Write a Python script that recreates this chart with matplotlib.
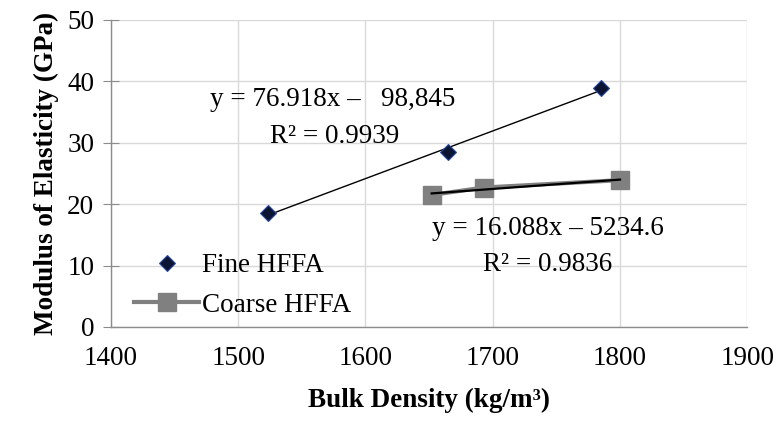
import matplotlib
matplotlib.use('Agg')
import matplotlib.pyplot as plt
import numpy as np

# Bulk density (kg/m3) vs modulus of elasticity (GPa)
fine_density = [1523, 1665, 1785]
fine_modulus = [18.5, 28.5, 38.9]
coarse_density = [1652, 1693, 1800]
coarse_modulus = [21.5, 22.7, 23.9]

fine_eq = 'y = 76.918x \u2013   98,845'
fine_r2 = 'R\u00b2 = 0.9939'
coarse_eq = 'y = 16.088x \u2013 5234.6'
coarse_r2 = 'R\u00b2 = 0.9836'

x_ticks = [1400, 1500, 1600, 1700, 1800, 1900]
y_ticks = [0, 10, 20, 30, 40, 50]

FS = 19.5
plt.rcParams['font.family'] = ['Liberation Serif', 'DejaVu Serif']

fig = plt.figure(figsize=(7.76, 4.24), dpi=100)
ax = fig.add_axes([0.143, 0.229, 0.820, 0.724])

ax.set_xlim(1400, 1900)
ax.set_ylim(0, 50)
ax.set_xticks(x_ticks)
ax.set_yticks(y_ticks)
ax.grid(True, color='#d9d9d9', lw=1)
ax.set_axisbelow(True)

for side in ['top', 'right']:
    ax.spines[side].set_visible(False)
for side in ['left', 'bottom']:
    ax.spines[side].set_color('#8c8c8c')
    ax.spines[side].set_linewidth(1)

ax.tick_params(axis='y', direction='inout', length=12, color='#8c8c8c', labelsize=FS, pad=6)
ax.tick_params(axis='x', length=0, labelsize=FS, pad=14)

# Fine HFFA: markers + linear trendline
ax.plot(fine_density, fine_modulus, ls='none', marker='D', ms=8,
        mfc='#0b1533', mec='#2b4aa0', mew=0.8, label='Fine HFFA', zorder=4)
p = np.polyfit(fine_density, fine_modulus, 1)
xf = np.array([min(fine_density), max(fine_density)])
ax.plot(xf, np.polyval(p, xf), color='black', lw=1, zorder=3)

# Coarse HFFA: connected squares + linear trendline
ax.plot(coarse_density, coarse_modulus, color='#808080', lw=3, marker='s', ms=13,
        mfc='#808080', mec='#808080', label='Coarse HFFA', zorder=3)
p = np.polyfit(coarse_density, coarse_modulus, 1)
xc = np.array([min(coarse_density), max(coarse_density)])
ax.plot(xc, np.polyval(p, xc), color='black', lw=1.6, zorder=4)

ax.text(1574, 37, fine_eq, ha='center', va='center', fontsize=FS)
ax.text(1576, 31, fine_r2, ha='center', va='center', fontsize=FS)
ax.text(1743, 16.1, coarse_eq, ha='center', va='center', fontsize=FS)
ax.text(1743, 10.1, coarse_r2, ha='center', va='center', fontsize=FS)

ax.set_xlabel('Bulk Density (kg/m\u00b3)', fontsize=FS, fontweight='bold', labelpad=12)
ax.set_ylabel('Modulus of Elasticity (GPa)', fontsize=FS, fontweight='bold', labelpad=6)

ax.legend(loc='lower left', bbox_to_anchor=(0.015, -0.015), frameon=False, fontsize=FS,
          handlelength=2.4, handletextpad=0.1, labelspacing=0.55, borderaxespad=0.1)

fig.savefig('out.png', dpi=100)
